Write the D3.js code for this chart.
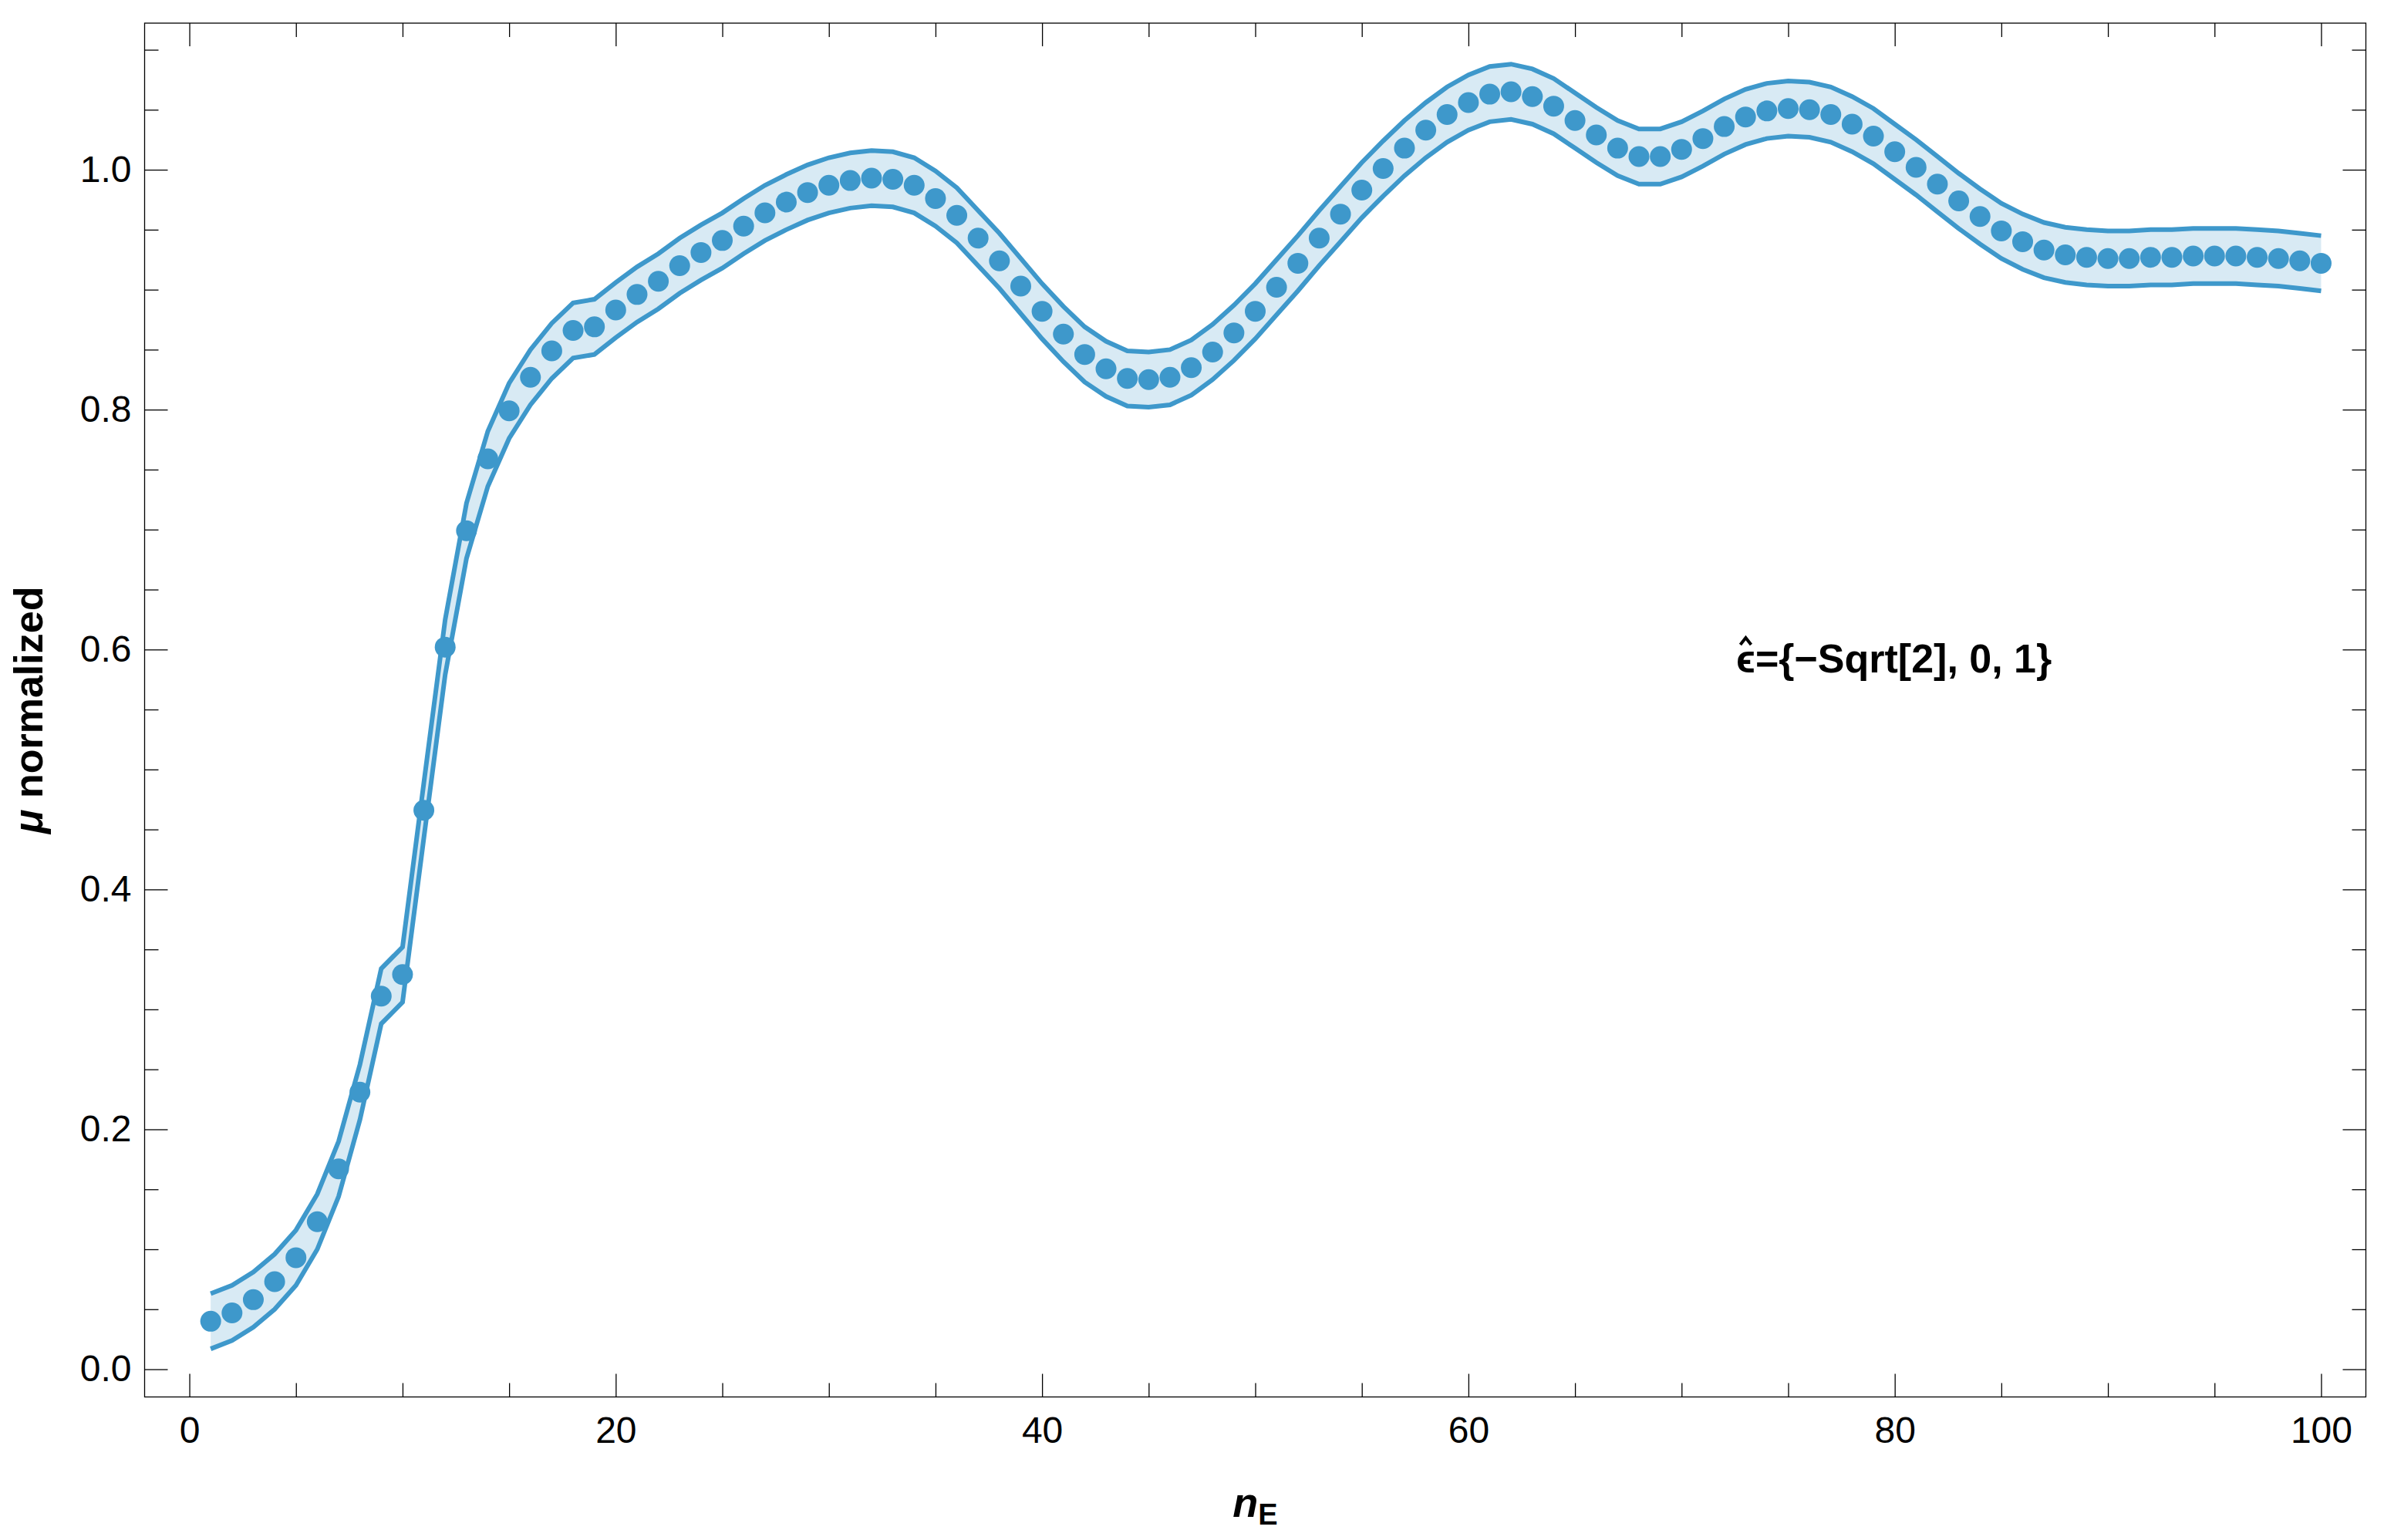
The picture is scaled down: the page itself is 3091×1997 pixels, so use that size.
<!DOCTYPE html>
<html>
<head>
<meta charset="utf-8">
<script src="https://cdn.jsdelivr.net/npm/d3@7"></script>
<style>
  html, body { margin: 0; padding: 0; background: #fff; }
  svg { display: block; }
  text { font-family: "Liberation Sans", Arial, sans-serif; }
</style>
</head>
<body>
<svg id="chart" width="3091" height="1997"></svg>
<script>
// ---- data ----
const nE = [1,2,3,4,5,6,7,8,9,10,11,12,13,14,15,16,17,18,19,20,
  21,22,23,24,25,26,27,28,29,30,31,32,33,34,35,36,37,38,39,40,
  41,42,43,44,45,46,47,48,49,50,51,52,53,54,55,56,57,58,59,60,
  61,62,63,64,65,66,67,68,69,70,71,72,73,74,75,76,77,78,79,80,
  81,82,83,84,85,86,87,88,89,90,91,92,93,94,95,96,97,98,99,100];
const muNormalized = [
  0.040,0.047,0.058,0.073,0.093,0.123,0.167,0.231,0.311,0.329,
  0.466,0.602,0.699,0.759,0.799,0.827,0.849,0.866,0.869,0.883,
  0.896,0.907,0.920,0.931,0.941,0.953,0.964,0.973,0.981,0.987,
  0.991,0.993,0.992,0.987,0.976,0.962,0.943,0.924,0.903,0.882,
  0.863,0.846,0.834,0.826,0.825,0.827,0.835,0.848,0.864,0.882,
  0.902,0.922,0.943,0.963,0.983,1.001,1.018,1.033,1.046,1.056,
  1.063,1.065,1.061,1.053,1.041,1.029,1.018,1.011,1.011,1.017,
  1.026,1.036,1.044,1.049,1.051,1.050,1.046,1.038,1.028,1.015,
  1.002,0.988,0.974,0.961,0.949,0.940,0.933,0.929,0.927,0.926,
  0.926,0.927,0.927,0.928,0.928,0.928,0.927,0.926,0.924,0.922];
const errHalfWidth = 0.023;
const xMajorTicks = [0, 20, 40, 60, 80, 100];
const xMinorTicks = [5,10,15,25,30,35,45,50,55,65,70,75,85,90,95];
const yMajorTicks = [0.0, 0.2, 0.4, 0.6, 0.8, 1.0];
const yMinorTicks = [0.05,0.1,0.15,0.25,0.3,0.35,0.45,0.5,0.55,0.65,0.7,0.75,0.85,0.9,0.95,1.05,1.1];
const xTitle = "n", xTitleSub = "E";
const yTitleSymbol = "μ", yTitleText = " normalized";
const annotationSymbol = "ϵ";
const annotation = "={−Sqrt[2], 0, 1}";

// ---- layout ----
const L = 187.5, R = 3067.5, T = 30, B = 1811.5;
const blue = "#3e98cb", bandFill = "#d8eaf4";

const x = d3.scaleLinear().domain([-2.1, 102.1]).range([L, R]);
const y = d3.scaleLinear().domain([-0.0231, 1.1222]).range([B, T]);

const svg = d3.select("#chart");
const data = nE.map((n, i) => ({ n, v: muNormalized[i] }));

// band
const area = d3.area().x(d => x(d.n)).y0(d => y(d.v - errHalfWidth)).y1(d => y(d.v + errHalfWidth));
svg.append("path").datum(data).attr("d", area).attr("fill", bandFill).attr("stroke", "none");
const upper = d3.line().x(d => x(d.n)).y(d => y(d.v + errHalfWidth));
const lower = d3.line().x(d => x(d.n)).y(d => y(d.v - errHalfWidth));
[upper, lower].forEach(ln => {
  svg.append("path").datum(data).attr("d", ln).attr("fill", "none")
    .attr("stroke", blue).attr("stroke-width", 6);
});

// points
svg.append("g").selectAll("circle").data(data).join("circle")
  .attr("cx", d => x(d.n)).attr("cy", d => y(d.v)).attr("r", 13.5).attr("fill", blue);

// axes / frame ticks
const fmtY = d3.format(".1f");
function styleAxis(g) {
  g.select(".domain").remove();
  g.selectAll(".tick line").attr("stroke", "#000").attr("stroke-width", 1.3);
  g.selectAll("text").attr("fill", "#000").style("font-size", "48px")
    .style("font-family", "'Liberation Sans', Arial, sans-serif");
}
// bottom
svg.append("g").attr("transform", `translate(0,${B})`)
  .call(d3.axisBottom(x).tickValues(xMajorTicks).tickSizeInner(-30).tickSizeOuter(0).tickPadding(25).tickFormat(d3.format("d")))
  .call(styleAxis);
svg.append("g").attr("transform", `translate(0,${B})`)
  .call(d3.axisBottom(x).tickValues(xMinorTicks).tickSizeInner(-18).tickSizeOuter(0).tickFormat(""))
  .call(styleAxis);
// top
svg.append("g").attr("transform", `translate(0,${T})`)
  .call(d3.axisTop(x).tickValues(xMajorTicks).tickSizeInner(-30).tickSizeOuter(0).tickFormat(""))
  .call(styleAxis);
svg.append("g").attr("transform", `translate(0,${T})`)
  .call(d3.axisTop(x).tickValues(xMinorTicks).tickSizeInner(-18).tickSizeOuter(0).tickFormat(""))
  .call(styleAxis);
// left
svg.append("g").attr("transform", `translate(${L},0)`)
  .call(d3.axisLeft(y).tickValues(yMajorTicks).tickSizeInner(-30).tickSizeOuter(0).tickPadding(17).tickFormat(fmtY))
  .call(styleAxis);
svg.append("g").attr("transform", `translate(${L},0)`)
  .call(d3.axisLeft(y).tickValues(yMinorTicks).tickSizeInner(-18).tickSizeOuter(0).tickFormat(""))
  .call(styleAxis);
// right
svg.append("g").attr("transform", `translate(${R},0)`)
  .call(d3.axisRight(y).tickValues(yMajorTicks).tickSizeInner(-30).tickSizeOuter(0).tickFormat(""))
  .call(styleAxis);
svg.append("g").attr("transform", `translate(${R},0)`)
  .call(d3.axisRight(y).tickValues(yMinorTicks).tickSizeInner(-18).tickSizeOuter(0).tickFormat(""))
  .call(styleAxis);

// frame
svg.append("rect").attr("x", L).attr("y", T).attr("width", R - L).attr("height", B - T)
  .attr("fill", "none").attr("stroke", "#000").attr("stroke-width", 1.3);

// x title
const xt = svg.append("text").attr("x", (L + R) / 2).attr("y", 1967).attr("text-anchor", "middle")
  .style("font-size", "54px").style("font-weight", "bold").attr("fill", "#000");
xt.append("tspan").style("font-style", "italic").text(xTitle);
xt.append("tspan").attr("dy", 10).style("font-size", "38px").text(xTitleSub);

// y title
const yt = svg.append("text").attr("transform", `translate(55,${(T + B) / 2}) rotate(-90)`)
  .attr("text-anchor", "middle").style("font-size", "52px").style("font-weight", "bold").attr("fill", "#000");
yt.append("tspan").style("font-style", "italic").text(yTitleSymbol);
yt.append("tspan").text(yTitleText);

// annotation
const annX = 2251, annY = 872;
const an = svg.append("text").attr("x", annX).attr("y", annY)
  .style("font-size", "52px").style("font-weight", "bold").attr("fill", "#000");
const eps = an.append("tspan").text(annotationSymbol);
an.append("tspan").text(annotation);
const epsW = eps.node().getComputedTextLength();
const hx = annX + epsW / 2, hy = annY - 36;
svg.append("path")
  .attr("d", `M${hx - 7},${hy} L${hx},${hy - 9} L${hx + 7},${hy}`)
  .attr("fill", "none").attr("stroke", "#000").attr("stroke-width", 4).attr("stroke-linejoin", "miter");
</script>
</body>
</html>
